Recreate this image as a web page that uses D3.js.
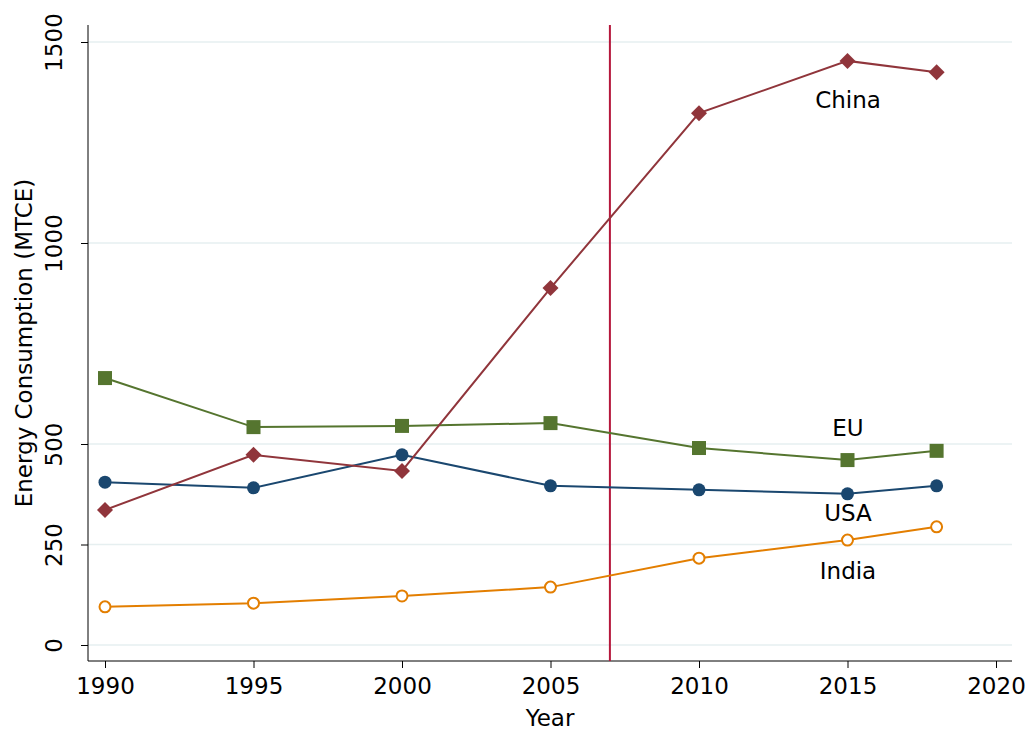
<!DOCTYPE html>
<html><head><meta charset="utf-8">
<script src="https://cdn.jsdelivr.net/npm/d3@7"></script>
<style>body{margin:0;background:#fff}text{font-family:"DejaVu Sans",sans-serif}</style>
</head><body><svg id="c" width="1036" height="736"></svg>
<script>
const years = [1990, 1995, 2000, 2005, 2010, 2015, 2018];
const china = [336, 473, 433, 888, 1323, 1453, 1425];
const eu = [664, 542, 545, 552, 490, 460, 483];
const usa = [405, 391, 473, 396, 386, 376, 396];
const india = [95, 104, 122, 144, 216, 261, 294];
const xTicks = [1990, 1995, 2000, 2005, 2010, 2015, 2020];
const yTicks = [0, 250, 500, 1000, 1500];

const svg = d3.select('#c');
const x = d3.scaleLinear().domain([1990, 2020]).range([105, 996]);
const y = d3.scaleLinear().domain([0, 1500]).range([645, 42]);

// grid
svg.selectAll('.grid').data(yTicks).join('line')
  .attr('x1', 88).attr('x2', 1012)
  .attr('y1', d => y(d)).attr('y2', d => y(d))
  .attr('stroke', '#e6eff0').attr('stroke-width', 1.5);

// axes
const xa = svg.append('g').attr('transform', 'translate(0,661)')
  .call(d3.axisBottom(x).tickValues(xTicks).tickFormat(d3.format('d')).tickSize(7).tickSizeOuter(0));
xa.select('.domain').attr('d', 'M88,0H1012');
xa.selectAll('text').attr('font-size', 23).attr('dy', '1.0em');
const ya = svg.append('g').attr('transform', 'translate(88,0)')
  .call(d3.axisLeft(y).tickValues(yTicks).tickFormat(d3.format('d')).tickSize(7).tickSizeOuter(0));
ya.select('.domain').attr('d', 'M0,25V661');
ya.selectAll('text').attr('font-size', 23).attr('x', 0).attr('y', 0).attr('dy', 0)
  .attr('text-anchor', 'middle')
  .attr('transform', 'translate(-26,0) rotate(-90)');
svg.selectAll('.tick line').attr('stroke', '#000');
svg.selectAll('.domain').attr('stroke', '#000');

svg.append('text').attr('x', 550).attr('y', 726).attr('text-anchor', 'middle').attr('font-size', 23).text('Year');
svg.append('text').attr('transform', 'translate(32,343) rotate(-90)').attr('text-anchor', 'middle')
  .attr('font-size', 23).text('Energy Consumption (MTCE)');

// vertical line
svg.append('line').attr('x1', x(2007)).attr('x2', x(2007)).attr('y1', 25).attr('y2', 661)
  .attr('stroke', '#b5173b').attr('stroke-width', 2);

const series = [
  {name: 'USA', vals: usa, color: '#1a476f', shape: 'circle'},
  {name: 'EU', vals: eu, color: '#55752f', shape: 'square'},
  {name: 'China', vals: china, color: '#90353b', shape: 'diamond'},
  {name: 'India', vals: india, color: '#e37e00', shape: 'hollow'},
];
const line = d3.line().x((d, i) => x(years[i])).y(d => y(d));
series.forEach(s => {
  svg.append('path').attr('d', line(s.vals)).attr('fill', 'none').attr('stroke', s.color).attr('stroke-width', 2);
  const g = svg.append('g');
  s.vals.forEach((v, i) => {
    const cx = x(years[i]), cy = y(v);
    if (s.shape === 'circle') g.append('circle').attr('cx', cx).attr('cy', cy).attr('r', 6.5).attr('fill', s.color);
    else if (s.shape === 'hollow') g.append('circle').attr('cx', cx).attr('cy', cy).attr('r', 5.5).attr('fill', '#fff').attr('stroke', s.color).attr('stroke-width', 2);
    else if (s.shape === 'square') g.append('rect').attr('x', cx - 7).attr('y', cy - 7).attr('width', 14).attr('height', 14).attr('fill', s.color);
    else g.append('path').attr('d', `M${cx},${cy - 8}L${cx + 8},${cy}L${cx},${cy + 8}L${cx - 8},${cy}Z`).attr('fill', s.color);
  });
});

const labels = [['China', 848, 100], ['EU', 848, 428], ['USA', 848, 513], ['India', 848, 571]];
labels.forEach(([t, lx, ly]) => svg.append('text').attr('x', lx).attr('y', ly).attr('dy', '0.35em')
  .attr('text-anchor', 'middle').attr('font-size', 23).text(t));
</script></body></html>
